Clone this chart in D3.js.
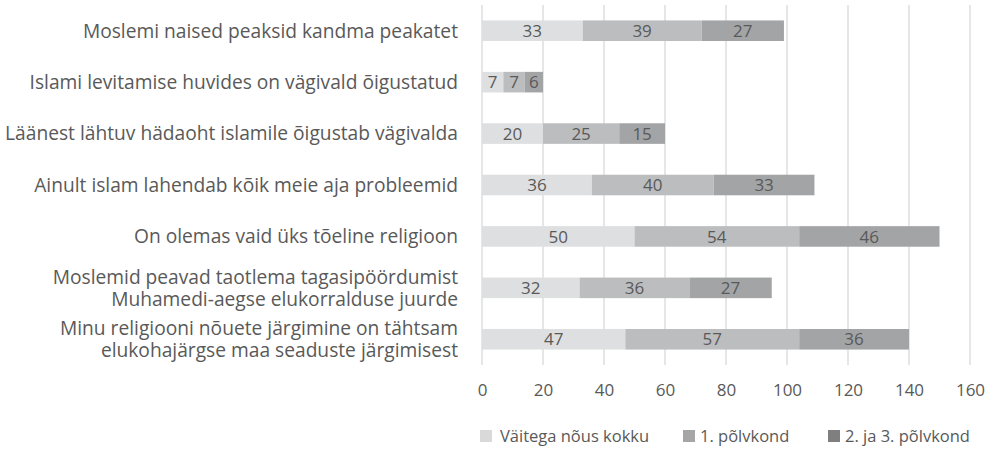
<!DOCTYPE html>
<html lang="et">
<head>
<meta charset="utf-8">
<title>Stacked bar chart</title>
<script src="https://d3js.org/d3.v7.min.js"></script>
<style>
  html, body { margin: 0; padding: 0; background: #fff; }
  svg { display: block; font-family: "Open Sans", "Noto Sans", sans-serif; }
</style>
</head>
<body>
<div id="chart"></div>
<script>
// Data
const categories = [
  ["Moslemi naised peaksid kandma peakatet"],
  ["Islami levitamise huvides on vägivald õigustatud"],
  ["Läänest lähtuv hädaoht islamile õigustab vägivalda"],
  ["Ainult islam lahendab kõik meie aja probleemid"],
  ["On olemas vaid üks tõeline religioon"],
  ["Moslemid peavad taotlema tagasipöördumist", "Muhamedi-aegse elukorralduse juurde"],
  ["Minu religiooni nõuete järgimine on tähtsam", "elukohajärgse maa seaduste järgimisest"]
];
const seriesNames = ["Väitega nõus kokku", "1. põlvkond", "2. ja 3. põlvkond"];
const valuesTotal = [33, 7, 20, 36, 50, 32, 47];
const valuesGen1 = [39, 7, 25, 40, 54, 36, 57];
const valuesGen23 = [27, 6, 15, 33, 46, 27, 36];
const xTicks = [0, 20, 40, 60, 80, 100, 120, 140, 160];

const barColors = ["#dedfe0", "#bcbdbf", "#a3a4a6"];
const legendColors = ["#d9d9d9", "#a6a6a6", "#7f7f7f"];
const textColor = "#595959";

const width = 995, height = 449;
const margin = { top: 5, right: 25, bottom: 84, left: 482 };

const rows = categories.map((c, i) => ({
  key: i,
  label: c,
  s0: valuesTotal[i],
  s1: valuesGen1[i],
  s2: valuesGen23[i]
}));

const stack = d3.stack().keys(["s0", "s1", "s2"]);
const stacked = stack(rows);

const svg = d3.select("#chart").append("svg")
  .attr("width", width)
  .attr("height", height);

const x = d3.scaleLinear()
  .domain([0, 160])
  .range([margin.left, 970]);

const y = d3.scaleBand()
  .domain(rows.map(d => d.key))
  .range([margin.top, height - margin.bottom])
  .paddingInner(0.6)
  .paddingOuter(0.3);

// Gridlines
svg.append("g")
  .selectAll("line")
  .data(xTicks)
  .join("line")
  .attr("x1", d => x(d))
  .attr("x2", d => x(d))
  .attr("y1", margin.top)
  .attr("y2", height - margin.bottom)
  .attr("stroke", "#d9d9d9")
  .attr("stroke-width", 1.3);

// Bars
const layers = svg.append("g")
  .selectAll("g")
  .data(stacked)
  .join("g")
  .attr("fill", (d, i) => barColors[i]);

layers.selectAll("rect")
  .data(d => d)
  .join("rect")
  .attr("x", d => x(d[0]))
  .attr("width", d => x(d[1]) - x(d[0]))
  .attr("y", d => y(d.data.key))
  .attr("height", y.bandwidth());

layers.selectAll("text")
  .data(d => d)
  .join("text")
  .attr("x", d => (x(d[0]) + x(d[1])) / 2)
  .attr("y", d => y(d.data.key) + y.bandwidth() / 2)
  .attr("dy", "0.36em")
  .attr("text-anchor", "middle")
  .attr("fill", textColor)
  .attr("font-size", 17)
  .text(d => d[1] - d[0]);

// Category labels
const lineH = 22;
svg.append("g")
  .selectAll("text")
  .data(rows)
  .join("text")
  .attr("text-anchor", "end")
  .attr("fill", textColor)
  .attr("font-size", 19.2)
  .each(function(d) {
    const cy = y(d.key) + y.bandwidth() / 2;
    const n = d.label.length;
    d3.select(this).selectAll("tspan")
      .data(d.label)
      .join("tspan")
      .attr("x", 458)
      .attr("y", (t, j) => cy + (j - (n - 1) / 2) * lineH)
      .attr("dy", "0.36em")
      .text(t => t);
  });

// X axis labels
const xAxis = d3.axisBottom(x).tickValues(xTicks).tickSize(0).tickPadding(0);
const ax = svg.append("g")
  .attr("transform", `translate(0, ${height - margin.bottom + 19})`)
  .call(xAxis);
ax.select(".domain").remove();
ax.selectAll("text")
  .attr("fill", textColor)
  .attr("font-size", 17)
  .attr("font-family", "\"Open Sans\", \"Noto Sans\", sans-serif");

// Legend
const legendX = [480, 683, 828];
const legend = svg.append("g")
  .selectAll("g")
  .data(seriesNames)
  .join("g")
  .attr("transform", (d, i) => `translate(${legendX[i]}, 436)`);

legend.append("rect")
  .attr("x", 0)
  .attr("y", -6)
  .attr("width", 12)
  .attr("height", 12)
  .attr("fill", (d, i) => legendColors[i]);

legend.append("text")
  .attr("x", (d, i) => i === 0 ? 20 : 17)
  .attr("dy", "0.36em")
  .attr("fill", textColor)
  .attr("font-size", 16.5)
  .text(d => d);
</script>
</body>
</html>
